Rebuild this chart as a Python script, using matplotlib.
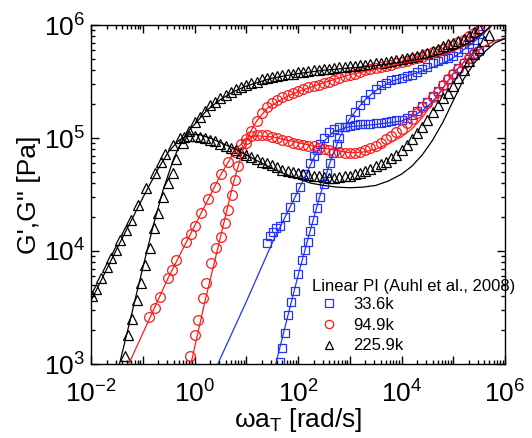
import numpy as np
import matplotlib
matplotlib.use("Agg")
import matplotlib.pyplot as plt
from matplotlib.lines import Line2D
from matplotlib.ticker import LogLocator, FixedLocator, FuncFormatter, NullFormatter

plt.rcParams['font.family'] = ['Liberation Sans', 'DejaVu Sans']
plt.rcParams['mathtext.fontset'] = 'custom'
plt.rcParams['mathtext.rm'] = 'Liberation Sans'
plt.rcParams['mathtext.it'] = 'Liberation Sans:italic'
plt.rcParams['mathtext.bf'] = 'Liberation Sans:bold'

# ---- data (log10 of frequency [rad/s] and log10 of modulus [Pa]) ----
labels = ["33.6k", "94.9k", "225.9k"]
colors = ["#2233ff", "#ff1a1a", "#000000"]
markers = ["s", "o", "^"]

# 225.9k measured
blk_gp_x = [-1.35,-1.28,-1.20,-1.11,-1.03,-0.95,-0.86,-0.78,-0.71,-0.61,-0.52,-0.42,-0.36,-0.22,-0.10,0.0,0.1,0.2,0.3,0.4,0.5,0.6,0.7,0.8,0.9,1.0,1.1,1.2,1.3,1.4,1.5,1.6,1.7,1.8,1.9,2.0,2.1,2.2,2.3,2.4,2.5,2.6,2.7,2.8,2.9,3.0,3.1,3.2,3.3,3.4,3.5,3.6,3.7,3.8,3.9,4.0,4.1,4.2,4.3,4.4,4.5,4.6,4.7,4.8,4.9,5.0,5.1,5.2,5.3,5.4,5.5]
blk_gp_y = [3.07,3.26,3.40,3.57,3.72,3.88,4.03,4.20,4.34,4.48,4.60,4.69,4.81,4.96,5.06,5.14,5.19,5.24,5.29,5.32,5.35,5.38,5.41,5.43,5.45,5.47,5.49,5.50,5.52,5.53,5.54,5.55,5.56,5.565,5.57,5.58,5.585,5.59,5.60,5.605,5.61,5.615,5.62,5.625,5.63,5.635,5.64,5.645,5.65,5.655,5.66,5.665,5.67,5.68,5.69,5.70,5.71,5.72,5.73,5.74,5.75,5.77,5.79,5.81,5.83,5.84,5.86,5.88,5.90,5.94,5.97]
blk_gpp_x = [-1.98,-1.90,-1.80,-1.70,-1.61,-1.52,-1.44,-1.32,-1.23,-1.09,-0.93,-0.77,-0.65,-0.57,-0.42,-0.28,-0.2,-0.1,0.0,0.1,0.2,0.3,0.4,0.5,0.6,0.7,0.8,0.9,1.0,1.1,1.2,1.3,1.4,1.5,1.6,1.7,1.8,1.9,2.0,2.1,2.2,2.3,2.4,2.5,2.6,2.7,2.8,2.9,3.0,3.1,3.2,3.3,3.4,3.5,3.6,3.7,3.8,3.9,4.0,4.1,4.2,4.3,4.4,4.5,4.6,4.7,4.8,4.9,5.0,5.1,5.2,5.3,5.4,5.5,5.6,5.7]
blk_gpp_y = [3.60,3.66,3.76,3.86,3.94,4.01,4.10,4.19,4.27,4.41,4.56,4.69,4.79,4.86,4.94,5.00,5.01,5.02,5.02,5.01,5.00,4.98,4.97,4.95,4.93,4.91,4.89,4.87,4.85,4.83,4.81,4.79,4.78,4.76,4.74,4.72,4.71,4.70,4.69,4.68,4.67,4.665,4.66,4.655,4.65,4.65,4.655,4.66,4.665,4.68,4.69,4.71,4.73,4.75,4.77,4.79,4.82,4.85,4.89,4.94,4.99,5.04,5.10,5.16,5.23,5.29,5.35,5.40,5.46,5.53,5.60,5.68,5.74,5.80,5.86,5.91]

# 94.9k measured
red_gp_x = [-0.09,0.01,0.07,0.17,0.22,0.32,0.42,0.51,0.58,0.65,0.72,0.78,0.85,0.92,1.0,1.1,1.2,1.3,1.4,1.5,1.6,1.7,1.8,1.9,2.0,2.1,2.2,2.3,2.4,2.5,2.6,2.7,2.8,2.9,3.0,3.1,3.2,3.3,3.4,3.5,3.6,3.7,3.8,3.9,4.0,4.1,4.2,4.3,4.4,4.5,4.6,4.7,4.8,4.9,5.0,5.1,5.2,5.3,5.4,5.5]
red_gp_y = [3.07,3.26,3.39,3.58,3.72,3.89,4.03,4.12,4.25,4.36,4.50,4.63,4.75,4.88,4.96,5.06,5.15,5.22,5.27,5.31,5.34,5.36,5.38,5.40,5.42,5.43,5.45,5.46,5.47,5.485,5.50,5.51,5.53,5.545,5.56,5.57,5.585,5.60,5.61,5.62,5.63,5.64,5.65,5.66,5.67,5.68,5.70,5.71,5.72,5.74,5.76,5.77,5.79,5.80,5.82,5.85,5.87,5.90,5.93,5.96]
red_gpp_x = [-0.87,-0.76,-0.67,-0.51,-0.43,-0.35,-0.16,-0.07,0.0,0.13,0.27,0.40,0.52,0.65,0.78,0.9,1.0,1.1,1.2,1.3,1.4,1.5,1.6,1.7,1.8,1.9,2.0,2.1,2.2,2.3,2.4,2.5,2.6,2.7,2.8,2.9,3.0,3.1,3.2,3.3,3.4,3.5,3.6,3.7,3.8,3.9,4.0,4.1,4.2,4.3,4.4,4.5,4.6,4.7,4.8,4.9,5.0,5.1,5.2,5.3,5.4]
red_gpp_y = [3.42,3.50,3.59,3.76,3.83,3.92,4.08,4.15,4.22,4.34,4.46,4.57,4.68,4.79,4.88,4.95,4.99,5.02,5.03,5.03,5.025,5.01,5.00,4.98,4.97,4.96,4.95,4.94,4.93,4.925,4.915,4.90,4.89,4.88,4.875,4.87,4.87,4.87,4.875,4.89,4.91,4.93,4.96,4.99,5.02,5.05,5.08,5.13,5.17,5.22,5.27,5.31,5.36,5.41,5.47,5.52,5.57,5.61,5.66,5.71,5.75]

# 33.6k measured
blu_gp_x = [1.65,1.69,1.75,1.81,1.87,1.94,2.00,2.08,2.14,2.19,2.24,2.29,2.36,2.43,2.50,2.56,2.62,2.68,2.75,2.8,2.9,3.0,3.1,3.2,3.3,3.4,3.5,3.6,3.7,3.8,3.9,4.0,4.1,4.2,4.3,4.4,4.5,4.6,4.7,4.8,4.9,5.0,5.1,5.2,5.3,5.4,5.5]
blu_gp_y = [3.02,3.14,3.27,3.43,3.55,3.65,3.80,3.92,4.01,4.08,4.18,4.27,4.38,4.48,4.59,4.69,4.78,4.87,4.95,5.00,5.10,5.17,5.23,5.29,5.34,5.39,5.43,5.47,5.49,5.51,5.52,5.53,5.545,5.56,5.58,5.61,5.63,5.66,5.68,5.70,5.71,5.73,5.76,5.79,5.83,5.87,5.92]
blu_gpp_x = [1.40,1.45,1.52,1.58,1.65,1.75,1.85,1.95,2.04,2.14,2.23,2.30,2.37,2.43,2.5,2.6,2.7,2.8,2.9,3.0,3.1,3.2,3.3,3.4,3.5,3.6,3.7,3.8,3.9,4.0,4.1,4.2,4.3,4.4,4.5,4.6,4.7,4.8,4.9,5.0,5.1,5.2,5.3,5.4,5.5]
blu_gpp_y = [4.07,4.13,4.17,4.20,4.22,4.30,4.39,4.48,4.57,4.68,4.78,4.84,4.89,4.95,5.00,5.05,5.08,5.095,5.10,5.11,5.115,5.12,5.12,5.125,5.13,5.135,5.14,5.15,5.155,5.16,5.18,5.20,5.24,5.28,5.32,5.37,5.42,5.47,5.52,5.57,5.62,5.66,5.70,5.74,5.77]

# model lines
blk_mgp_x = [-1.45,-1.2,-1.0,-0.8,-0.6,-0.4,-0.3,-0.2,-0.1,0.0,0.25,0.5,0.75,1.0,1.5,2.0,2.5,3.0,3.5,4.0,4.5,4.8,5.0,5.2,5.4,5.6,5.75]
blk_mgp_y = [3.0,3.47,3.85,4.22,4.55,4.82,4.92,5.0,5.07,5.12,5.25,5.34,5.41,5.46,5.53,5.57,5.60,5.62,5.64,5.67,5.71,5.75,5.78,5.82,5.87,5.94,6.0]
blk_mgpp_x = [-2.0,-1.5,-1.0,-0.7,-0.5,-0.3,-0.1,0.1,0.3,0.5,0.75,1.0,1.25,1.5,1.75,2.0,2.25,2.5,2.75,3.0,3.25,3.5,3.75,4.0,4.2,4.4,4.6,4.8,5.0,5.2,5.4,5.6,5.8,6.0]
blk_mgpp_y = [3.56,4.02,4.47,4.73,4.88,4.98,5.03,5.03,5.00,4.96,4.91,4.85,4.79,4.73,4.68,4.64,4.60,4.58,4.565,4.56,4.565,4.58,4.62,4.68,4.75,4.85,4.98,5.14,5.33,5.52,5.66,5.76,5.84,5.88]
red_mgp_x = [-0.07,0.2,0.5,0.75,0.95,1.1,1.2,1.4,1.6,1.8,2.0,2.5,3.0,3.5,4.0,4.5,4.8,5.0,5.2,5.4,5.6,5.75]
red_mgp_y = [3.0,3.55,4.12,4.6,4.92,5.07,5.15,5.26,5.32,5.37,5.41,5.49,5.56,5.61,5.66,5.70,5.74,5.77,5.81,5.87,5.94,6.0]
red_mgpp_x = [-1.27,-1.0,-0.5,0.0,0.5,0.8,1.0,1.2,1.5,2.0,2.5,3.0,3.25,3.5,3.75,4.0,4.2,4.4,4.6,4.8,5.0,5.2,5.4,5.6,5.8,6.0]
red_mgpp_y = [3.0,3.27,3.77,4.22,4.67,4.90,4.99,5.02,5.01,4.96,4.91,4.87,4.875,4.90,4.95,5.01,5.08,5.18,5.31,5.44,5.57,5.67,5.75,5.81,5.86,5.88]
blu_mgp_x = [1.57,1.8,2.0,2.2,2.4,2.6,2.8,3.0,3.15,3.3,3.45,3.6,3.8,4.0,4.5,4.8,5.0,5.2,5.4,5.6,5.75]
blu_mgp_y = [3.0,3.42,3.78,4.12,4.45,4.76,5.0,5.17,5.26,5.34,5.40,5.45,5.50,5.53,5.61,5.66,5.71,5.78,5.85,5.93,6.0]
blu_mgpp_x = [0.45,1.0,1.5,2.0,2.3,2.5,2.7,3.0,3.5,3.75,4.0,4.2,4.4,4.6,4.8,5.0,5.2,5.4,5.6,5.8,6.0]
blu_mgpp_y = [3.0,3.55,4.07,4.53,4.82,4.97,5.06,5.10,5.12,5.135,5.15,5.19,5.24,5.32,5.44,5.57,5.67,5.75,5.81,5.86,5.88]

measured = [
    (blu_gp_x, blu_gp_y, blu_gpp_x, blu_gpp_y),
    (red_gp_x, red_gp_y, red_gpp_x, red_gpp_y),
    (blk_gp_x, blk_gp_y, blk_gpp_x, blk_gpp_y),
]
models = [
    (blu_mgp_x, blu_mgp_y, blu_mgpp_x, blu_mgpp_y),
    (red_mgp_x, red_mgp_y, red_mgpp_x, red_mgpp_y),
    (blk_mgp_x, blk_mgp_y, blk_mgpp_x, blk_mgpp_y),
]

fig = plt.figure(figsize=(5.32, 4.38), dpi=100)
ax = fig.add_axes([91/532, 1-364/438, (505-91)/532, (364-25)/438])

p = lambda v: 10.0 ** np.asarray(v, dtype=float)
msz = {"s": 6.0, "o": 7.0, "^": 7.5}
for (gx, gy, hx, hy), (mx, my, nx, ny), c, m in zip(measured, models, colors, markers):
    for xx, yy in ((gx, gy), (hx, hy)):
        ax.plot(p(xx), p(yy), linestyle='none', marker=m, ms=msz[m], mfc='none',
                mec=c, mew=0.9, clip_on=True, zorder=2)
    for xx, yy in ((mx, my), (nx, ny)):
        ax.plot(p(xx), p(yy), '-', color=c, lw=0.9, zorder=3)

ax.set_xscale('log')
ax.set_yscale('log')
ax.set_xlim(1e-2, 1e6)
ax.set_ylim(1e3, 1e6)

ax.xaxis.set_major_locator(FixedLocator([10.0**k for k in range(-2, 7)]))
ax.xaxis.set_minor_locator(LogLocator(base=10, subs=np.arange(2, 10), numticks=20))
def xfmt(v, pos):
    k = int(round(np.log10(v)))
    return r'$\mathregular{10^{%d}}$' % k if k % 2 == 0 else ''
ax.xaxis.set_major_formatter(FuncFormatter(xfmt))
ax.xaxis.set_minor_formatter(NullFormatter())
ax.yaxis.set_major_locator(FixedLocator([1e3, 1e4, 1e5, 1e6]))
ax.yaxis.set_minor_locator(LogLocator(base=10, subs=np.arange(2, 10), numticks=20))
ax.yaxis.set_major_formatter(FuncFormatter(lambda v, pos: r'$\mathregular{10^{%d}}$' % int(round(np.log10(v)))))
ax.yaxis.set_minor_formatter(NullFormatter())

ax.tick_params(which='both', direction='in', top=True, right=True, width=1.0)
ax.tick_params(which='major', length=6, labelsize=19)
ax.tick_params(axis='x', which='major', pad=12)
ax.tick_params(axis='y', which='major', pad=4)
ax.tick_params(which='minor', length=3)
for s in ax.spines.values():
    s.set_linewidth(1.0)

ax.set_xlabel('ωa$_\\mathregular{T}$ [rad/s]', fontsize=19, labelpad=-1)
ax.set_ylabel("G',G'' [Pa]", fontsize=19, labelpad=2)

handles = [Line2D([], [], linestyle='none', marker=m, ms=6, mfc='none', mec=c, mew=0.9)
           for m, c in zip(markers, colors)]
leg = ax.legend(handles, labels, title="Linear PI (Auhl et al., 2008)", loc='upper left',
                bbox_to_anchor=(312/532, 1-279/438), bbox_transform=fig.transFigure,
                frameon=False, fontsize=12, title_fontsize=12, alignment='left',
                handlelength=2.0, handletextpad=0.45, borderpad=0, labelspacing=0.35,
                borderaxespad=0)
leg._legend_box.sep = 2

fig.savefig('out.png', dpi=100)
